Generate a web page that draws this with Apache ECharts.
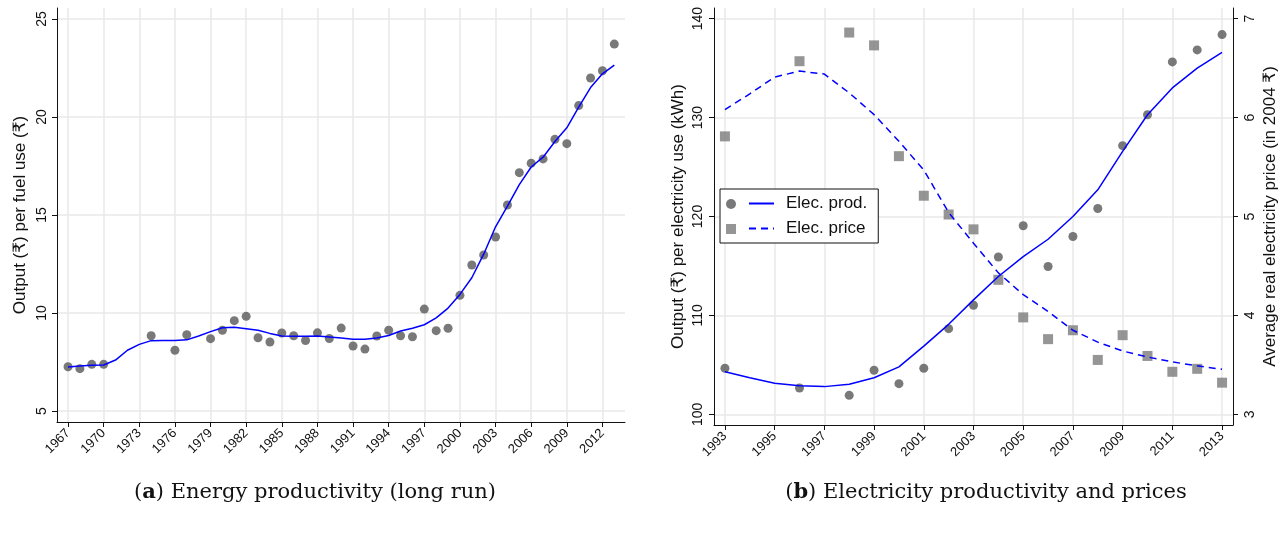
<!DOCTYPE html>
<html>
<head>
<meta charset="utf-8">
<script src="https://cdn.jsdelivr.net/npm/echarts@6/dist/echarts.min.js"></script>
<style>
html,body{margin:0;padding:0;background:#fff;}
#chart{width:1286px;height:535px;}
</style>
</head>
<body>
<div id="chart"></div>
<script>
// ---------- Panel (a): energy productivity (long run) ----------
var energyYears = [1967,1968,1969,1970,1974,1976,1977,1979,1980,1981,1982,1983,1984,1985,1986,1987,1988,1989,1990,1991,1992,1993,1994,1995,1996,1997,1998,1999,2000,2001,2002,2003,2004,2005,2006,2007,2008,2009,2010,2011,2012,2013];
var energyProd = [7.26,7.16,7.38,7.38,8.84,8.10,8.89,8.69,9.12,9.61,9.83,8.74,8.52,8.98,8.84,8.60,8.99,8.70,9.23,8.32,8.16,8.83,9.12,8.84,8.79,10.20,9.10,9.22,10.90,12.45,12.96,13.88,15.51,17.16,17.64,17.86,18.86,18.64,20.58,21.99,22.36,23.72];
var energyFitYears = [1967,1968,1969,1970,1971,1972,1973,1974,1975,1976,1977,1978,1979,1980,1981,1982,1983,1984,1985,1986,1987,1988,1989,1990,1991,1992,1993,1994,1995,1996,1997,1998,1999,2000,2001,2002,2003,2004,2005,2006,2007,2008,2009,2010,2011,2012,2013];
var energyFit = [7.25,7.30,7.33,7.35,7.60,8.10,8.40,8.59,8.60,8.60,8.63,8.83,9.05,9.25,9.27,9.20,9.12,8.96,8.83,8.81,8.82,8.83,8.78,8.72,8.66,8.66,8.72,8.85,9.08,9.22,9.40,9.75,10.25,10.95,11.80,13.00,14.40,15.45,16.55,17.45,17.95,18.75,19.45,20.50,21.50,22.20,22.65];
var energyXTicks = [1967,1970,1973,1976,1979,1982,1985,1988,1991,1994,1997,2000,2003,2006,2009,2012];
var energyYTicks = [5,10,15,20,25];

// ---------- Panel (b): electricity productivity and prices ----------
var elecYears = [1993,1996,1998,1999,2000,2001,2002,2003,2004,2005,2006,2007,2008,2009,2010,2011,2012,2013];
var elecProd = [104.66,102.66,101.92,104.45,103.10,104.66,108.66,111.03,115.90,119.06,114.94,117.98,120.81,127.16,130.29,135.63,136.84,138.39];
var elecPrice = [5.81,6.57,6.86,6.73,5.61,5.21,5.02,4.87,4.36,3.98,3.76,3.85,3.55,3.80,3.59,3.43,3.46,3.32];
var elecFitYears = [1993,1994,1995,1996,1997,1998,1999,2000,2001,2002,2003,2004,2005,2006,2007,2008,2009,2010,2011,2012,2013];
var prodFit = [104.30,103.70,103.15,102.90,102.80,103.05,103.70,104.80,106.90,109.10,111.57,113.93,115.95,117.70,120.00,122.70,126.58,130.29,133.00,135.00,136.60];
var priceFit = [6.08,6.24,6.41,6.47,6.44,6.25,6.03,5.76,5.47,5.04,4.73,4.43,4.21,4.04,3.85,3.73,3.64,3.58,3.53,3.49,3.455];
var elecXTicks = [1993,1995,1997,1999,2001,2003,2005,2007,2009,2011,2013];
var prodYTicks = [100,110,120,130,140];
var priceYTicks = [3,4,5,6,7];

var captionA = '({b|a}) Energy productivity (long run)';
var captionB = '({b|b}) Electricity productivity and prices';

function pairs(xs, ys){ return xs.map(function(x,i){ return [x, ys[i]]; }); }

var SANS = '"Liberation Sans", "DejaVu Sans", "Noto Sans", sans-serif';
var SERIF = '"DejaVu Serif", "Liberation Serif", serif';
var GRIDC = '#e8e8e8';
var AXC = '#111';
var DOT = '#575757';
var SQ = '#7a7a7a';
var BLUE = '#0000ff';

function xAxisCfg(gridIndex, min, max, ticks){
  return {
    type:'value', gridIndex:gridIndex, min:min, max:max,
    axisLine:{show:true, onZero:false, lineStyle:{color:AXC, width:1}},
    axisTick:{show:true, length:5, lineStyle:{color:AXC}, customValues:ticks},
    axisLabel:{customValues:ticks, rotate:45, fontSize:13, color:'#111', fontFamily:SANS, margin:9, formatter:function(v){return String(v);}},
    splitLine:{show:true, lineStyle:{color:GRIDC, width:1.5}}
  };
}
function yAxisCfg(gridIndex, min, max, ticks, pos, name, split, gap, lmargin){
  return {
    type:'value', gridIndex:gridIndex, min:min, max:max, position:pos,
    name:name, nameLocation:'middle', nameRotate:90, nameGap:gap,
    nameTextStyle:{fontSize:17, color:'#111', fontFamily:SANS},
    axisLine:{show:true, onZero:false, lineStyle:{color:AXC, width:1}},
    axisTick:{show:true, length:5, lineStyle:{color:AXC}, customValues:ticks},
    axisLabel:{customValues:ticks, rotate:90, fontSize:14, color:'#111', fontFamily:SANS, margin:lmargin},
    splitLine:{show:split, lineStyle:{color:GRIDC, width:1.5}}
  };
}

var option = {
  animation:false,
  backgroundColor:'#ffffff',
  grid:[
    {left:57, right:661, top:8, bottom:113, containLabel:false},
    {left:714, right:53, top:8, bottom:110, containLabel:false}
  ],
  xAxis:[
    xAxisCfg(0, 1966.07, 2013.9, energyXTicks),
    xAxisCfg(1, 1992.56, 2013.44, elecXTicks)
  ],
  yAxis:[
    yAxisCfg(0, 4.44, 25.56, energyYTicks, 'left', 'Output (₹) per fuel use (₹)', true, 28, 8),
    yAxisCfg(1, 98.92, 141.08, prodYTicks, 'left', 'Output (₹) per electricity use (kWh)', true, 27, 9),
    yAxisCfg(1, 2.892, 7.108, priceYTicks, 'right', 'Average real electricity price (in 2004 ₹)', false, 29, 10)
  ],
  legend:[
    {
      data:['Elec. prod.','Elec. price'],
      orient:'vertical', left:720, top:189,
      padding:[6,11,6,28], itemGap:8, itemWidth:25, itemHeight:14,
      itemStyle:{opacity:0},
      borderColor:'#111', borderWidth:1, backgroundColor:'#fff', borderRadius:0,
      textStyle:{fontSize:17, color:'#111', fontFamily:SANS, padding:[0,0,0,7]},
      selectedMode:false, z:5
    },
    {
      data:['Elec. prod. obs','Elec. price obs'],
      orient:'vertical', left:726, top:189,
      padding:[10,0,6,0], itemGap:15, itemWidth:10, itemHeight:10,
      formatter:function(){ return ''; },
      selectedMode:false, z:6
    }
  ],
  series:[
    {type:'scatter', name:'Energy prod.', xAxisIndex:0, yAxisIndex:0, data:pairs(energyYears, energyProd), symbol:'circle', symbolSize:9, itemStyle:{color:DOT}, z:3},
    {type:'line', name:'Energy fit', xAxisIndex:0, yAxisIndex:0, data:pairs(energyFitYears, energyFit), symbol:'none', lineStyle:{color:BLUE, width:1.5}, z:4},
    {type:'scatter', name:'Elec. prod. obs', xAxisIndex:1, yAxisIndex:1, data:pairs(elecYears, elecProd), symbol:'circle', symbolSize:9, itemStyle:{color:DOT}, z:3},
    {type:'scatter', name:'Elec. price obs', xAxisIndex:1, yAxisIndex:2, data:pairs(elecYears, elecPrice), symbol:'rect', symbolSize:10, itemStyle:{color:SQ}, z:3},
    {type:'line', name:'Elec. prod.', xAxisIndex:1, yAxisIndex:1, data:pairs(elecFitYears, prodFit), symbol:'none', lineStyle:{color:BLUE, width:1.5}, itemStyle:{color:BLUE}, z:4},
    {type:'line', name:'Elec. price', xAxisIndex:1, yAxisIndex:2, data:pairs(elecFitYears, priceFit), symbol:'none', lineStyle:{color:BLUE, width:1.5, type:[7,5]}, itemStyle:{color:BLUE}, z:4}
  ],
  graphic:[
    {type:'text', x:315, y:493, style:{text:captionA, fill:'#111', font:'21px ' + SERIF, textAlign:'center', textVerticalAlign:'middle', rich:{b:{fontWeight:'bold', fontSize:21, fontFamily:SERIF, fill:'#111'}}}},
    {type:'text', x:986, y:493, style:{text:captionB, fill:'#111', font:'21px ' + SERIF, textAlign:'center', textVerticalAlign:'middle', rich:{b:{fontWeight:'bold', fontSize:21, fontFamily:SERIF, fill:'#111'}}}}
  ]
};

var chart = echarts.init(document.getElementById('chart'), null, {renderer:'canvas'});
chart.setOption(option);
</script>
</body>
</html>
